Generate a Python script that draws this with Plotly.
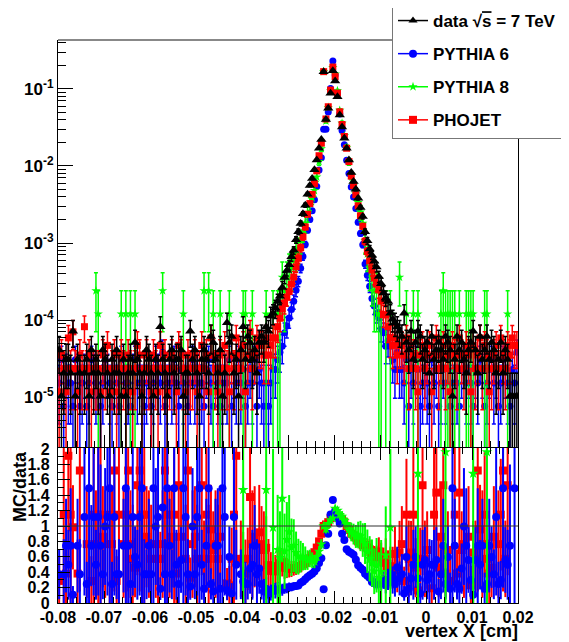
import numpy as np
import plotly.graph_objects as go

# ---------------- binning (200 bins of 0.0005 cm) ----------------
x_low, x_high, n_bins = -0.08, 0.02, 200
bin_width = (x_high - x_low) / n_bins
x_centers = x_low + bin_width * (np.arange(n_bins) + 0.5)

# per-entry weights (normalised histograms)
data_weight = 1.02e-5
pythia6_weight = 0.76e-5
pythia8_weight = 1.2e-4
phojet_weight = 1.17e-5

# ---------------- bin contents (entries) ----------------
# bins 0-87 (left tail), 88-148 (core), 149-199 (right tail)
data_counts_left = [4, 1, 2, 3, 3, 2, 7, 1, 3, 2,
                    0, 2, 3, 1, 4, 2, 3, 2, 1, 4,
                    3, 2, 1, 3, 2, 4, 2, 1, 3, 1,
                    2, 3, 2, 5, 3, 2, 1, 2, 4, 3,
                    2, 1, 3, 2, 8, 3, 2, 1, 3, 4,
                    2, 3, 3, 4, 1, 2, 2, 7, 3, 4,
                    2, 1, 3, 4, 3, 2, 6, 5, 3, 2,
                    4, 1, 2, 9, 5, 6, 2, 3, 1, 4,
                    8, 3, 6, 5, 3, 4, 2, 5]
data_counts_core = [6, 5, 8, 7, 11, 12, 14, 17, 20, 26,
                    35, 43, 51, 65, 79, 108, 137, 176, 235, 304,
                    422, 549, 676, 873, 1176, 1667, 2157, 16470, 3922, 5490,
                    8627, 16860, 12450, 7745, 4510, 3137, 2255, 1667, 1176, 804,
                    618, 490, 373, 284, 216, 137, 105, 82, 68, 57,
                    48, 36, 29, 22, 19, 17, 12, 10, 9, 8,
                    7]
data_counts_right = [6, 12, 5, 4, 7, 3, 5, 7, 6, 3,
                     4, 5, 2, 6, 3, 4, 5, 4, 3, 6,
                     5, 4, 1, 3, 6, 4, 5, 3, 2, 4,
                     5, 7, 4, 2, 6, 3, 4, 6, 3, 5,
                     4, 2, 3, 5, 2, 4, 3, 1, 1, 1,
                     1]

pythia6_counts_left = [2, 4, 1, 3, 2, 2, 1, 4, 3, 1,
                       2, 3, 1, 2, 4, 3, 2, 3, 1, 2,
                       4, 3, 2, 1, 3, 2, 1, 4, 3, 2,
                       2, 1, 3, 4, 2, 3, 2, 1, 2, 3,
                       1, 2, 4, 3, 2, 5, 1, 2, 3, 2,
                       4, 2, 1, 3, 2, 3, 1, 2, 4, 2,
                       3, 2, 2, 1, 3, 4, 2, 1, 3, 2,
                       1, 2, 3, 2, 4, 1, 3, 2, 4, 2,
                       3, 1, 2, 3, 2, 4, 1, 3]
pythia6_counts_core = [2, 1, 2, 1, 2, 3, 3, 4, 5, 6,
                       9, 11, 14, 18, 23, 32, 42, 62, 88, 126,
                       192, 265, 345, 480, 710, 1163, 1680, 3950, 3950, 6630,
                       13300, 30300, 20000, 11430, 6240, 3790, 2480, 1565, 1050, 700,
                       520, 370, 245, 175, 125, 70, 50, 36, 25, 20,
                       16, 14, 10, 9, 6, 7, 6, 4, 3, 5,
                       3]
pythia6_counts_right = [3, 2, 4, 1, 3, 2, 4, 3, 1, 2,
                        3, 2, 1, 4, 2, 3, 1, 2, 3, 2,
                        4, 1, 2, 3, 2, 1, 3, 4, 2, 3,
                        2, 1, 3, 2, 4, 3, 1, 2, 3, 4,
                        2, 3, 1, 2, 4, 3, 2, 1, 3, 2,
                        5]

pythia8_counts_left = [0, 0, 0, 0, 0, 0, 0, 0, 0, 0,
                       0, 0, 0, 0, 0, 0, 2, 1, 0, 0,
                       0, 0, 0, 0, 0, 0, 0, 1, 0, 1,
                       0, 1, 0, 1, 0, 0, 0, 0, 0, 0,
                       0, 0, 0, 0, 0, 2, 0, 0, 0, 0,
                       0, 0, 0, 0, 1, 0, 0, 0, 0, 0,
                       0, 0, 0, 2, 0, 2, 0, 1, 0, 0,
                       1, 0, 0, 0, 1, 0, 0, 0, 0, 0,
                       1, 1, 0, 0, 1, 0, 0, 0]
pythia8_counts_core = [0, 0, 1, 0, 0, 1, 0, 1, 1, 3,
                       2, 3, 4, 4, 5, 6, 7, 9, 12, 15,
                       20, 27, 32, 40, 60, 95, 140, 1400, 320, 480,
                       790, 1580, 1300, 790, 440, 300, 205, 145, 95, 63,
                       47, 36, 28, 21, 15, 9, 6, 4, 3, 2,
                       2, 1, 1, 0, 1, 0, 1, 0, 0, 0,
                       3]
pythia8_counts_right = [0, 0, 1, 0, 0, 1, 0, 1, 0, 0,
                        0, 0, 0, 0, 0, 0, 0, 1, 2, 1,
                        1, 1, 1, 1, 0, 1, 0, 0, 1, 1,
                        1, 1, 0, 0, 0, 0, 1, 1, 0, 0,
                        0, 0, 0, 0, 0, 0, 1, 0, 0, 0,
                        0]

phojet_counts_left = [1, 3, 2, 1, 5, 2, 6, 2, 1, 3,
                      2, 7, 2, 3, 1, 2, 2, 2, 1, 3,
                      2, 4, 1, 2, 3, 1, 2, 3, 2, 1,
                      3, 2, 1, 2, 4, 3, 1, 2, 3, 2,
                      1, 3, 2, 1, 4, 2, 3, 1, 2, 3,
                      2, 1, 4, 3, 2, 1, 3, 2, 2, 3,
                      1, 2, 4, 2, 3, 1, 5, 3, 2, 1,
                      3, 2, 4, 2, 1, 3, 2, 5, 3, 2,
                      4, 1, 3, 6, 2, 3, 5, 4]
phojet_counts_core = [4, 3, 5, 3, 4, 5, 5, 7, 9, 12,
                      14, 17, 20, 25, 31, 42, 54, 74, 103, 138,
                      202, 278, 366, 502, 738, 1162, 1692, 14360, 3487, 5026,
                      8274, 16465, 12374, 7562, 4325, 2954, 2064, 1453, 974, 631,
                      474, 363, 260, 193, 141, 90, 66, 50, 38, 30,
                      25, 21, 15, 10, 10, 7, 5, 4, 5, 3,
                      4]
phojet_counts_right = [4, 3, 5, 2, 4, 3, 2, 1, 3, 4,
                       2, 3, 4, 1, 3, 5, 2, 3, 4, 2,
                       3, 1, 4, 3, 2, 5, 3, 2, 4, 3,
                       1, 4, 2, 3, 5, 2, 4, 3, 1, 2,
                       3, 4, 2, 5, 3, 2, 4, 3, 5, 4,
                       4]

# tick labels
y_top_tickvals = [1e-5, 1e-4, 1e-3, 1e-2, 1e-1]
y_top_ticktext = ["10<sup>-5</sup>", "10<sup>-4</sup>", "10<sup>-3</sup>",
                  "10<sup>-2</sup>", "10<sup>-1</sup>"]
x_tickvals = [-0.08, -0.07, -0.06, -0.05, -0.04, -0.03, -0.02, -0.01, 0.0, 0.01, 0.02]
x_ticktext = ["-0.08", "-0.07", "-0.06", "-0.05", "-0.04", "-0.03", "-0.02",
              "-0.01", "0", "0.01", "0.02"]
y_ratio_tickvals = [0, 0.2, 0.4, 0.6, 0.8, 1, 1.2, 1.4, 1.6, 1.8, 2]
y_ratio_ticktext = ["0", "0.2", "0.4", "0.6", "0.8", "1", "1.2", "1.4", "1.6", "1.8", "2"]

series = [
    # name, counts, weight, colour, symbol, size
    ("PYTHIA 6", pythia6_counts_left + pythia6_counts_core + pythia6_counts_right,
     pythia6_weight, "#0000ff", "circle", 7),
    ("PYTHIA 8", pythia8_counts_left + pythia8_counts_core + pythia8_counts_right,
     pythia8_weight, "#00ff00", "star", 7),
    ("PHOJET", phojet_counts_left + phojet_counts_core + phojet_counts_right,
     phojet_weight, "#ff0000", "square", 7),
]
data_counts = np.array(data_counts_left + data_counts_core + data_counts_right, float)

RATIO_MAX = 2.013
FONT = "Liberation Sans, Arial, sans-serif"
fig = go.Figure()


def add_hist(counts, weight, color, symbol, size):
    counts = np.asarray(counts, float)
    m = counts > 0
    vals = counts[m] * weight
    errs = np.sqrt(counts[m]) * weight
    fig.add_trace(go.Scatter(
        x=x_centers[m], y=vals, mode="markers", xaxis="x", yaxis="y",
        marker=dict(symbol=symbol, size=size, color=color, line=dict(width=0)),
        error_y=dict(type="data", array=errs, arrayminus=errs, color=color,
                     thickness=1.5, width=2),
        showlegend=False, hoverinfo="skip"))


# top panel: MC first, data on top
for name, cnt, w, col, sym, sz in series:
    add_hist(cnt, w, col, sym, sz)
add_hist(data_counts, data_weight, "#000000", "triangle-up", 9)

# ratio panel (points outside the frame are not drawn, as in ROOT)
ratio_order = [series[2], series[0], series[1]]
for name, cnt, w, col, sym, sz in ratio_order:
    cnt = np.asarray(cnt, float)
    m = (cnt > 0) & (data_counts > 0)
    r = (cnt[m] * w) / (data_counts[m] * data_weight)
    e = r * np.sqrt(1.0 / cnt[m] + 1.0 / data_counts[m])
    keep = r <= RATIO_MAX
    fig.add_trace(go.Scatter(
        x=x_centers[m][keep], y=r[keep], mode="markers", xaxis="x2", yaxis="y2",
        marker=dict(symbol=sym, size=sz + 1, color=col, line=dict(width=0)),
        error_y=dict(type="data", array=e[keep], arrayminus=e[keep], color=col,
                     thickness=2, width=0),
        showlegend=False, hoverinfo="skip"))

# legend-only entries
legend_entries = [
    ("data \u221a<span style='text-decoration:overline'>s</span> = 7 TeV",
     "#000000", "triangle-up", 8),
    ("PYTHIA 6", "#0000ff", "circle", 8),
    ("PYTHIA 8", "#00ff00", "star", 7),
    ("PHOJET", "#ff0000", "square", 8),
]
for i, (nm, col, sym, sz) in enumerate(legend_entries):
    fig.add_trace(go.Scatter(
        x=[None], y=[None], mode="lines+markers", name=nm, legendgroup=f"g{i}",
        line=dict(color=col, width=1.5),
        marker=dict(symbol=sym, size=sz, color=col), xaxis="x", yaxis="y"))

# ---------------- layout ----------------
# the page body adds an 8 px offset; the plot frame must sit at x 58-518, y 40-603
W, H = 569, 642
OFF = 8
PX_L, PX_R, PX_T, PX_B = 58, 518, 40, 603
pw, ph = PX_R - PX_L, PX_B - PX_T
ml, mt = PX_L - OFF, PX_T - OFF
mr, mb = W - ml - pw, H - mt - ph
split_low = (PX_B - 448) / ph
split_high = (PX_B - 447) / ph


def px_x(px):
    return (px - PX_L) / pw


def px_y(py):
    return (PX_B - py) / ph


axis_common = dict(showline=True, linecolor="black", linewidth=1.2, ticks="inside",
                   tickcolor="black", showgrid=False, zeroline=False, automargin=False)

fig.update_layout(
    width=W, height=H,
    margin=dict(l=ml, r=mr, t=mt, b=mb, autoexpand=False),
    paper_bgcolor="white", plot_bgcolor="white",
    font=dict(family=FONT, size=16, color="black", weight="bold"),
    xaxis=dict(domain=[0, 1], anchor="y", range=[x_low, x_high],
               tickvals=x_tickvals, showticklabels=False, ticklen=12,
               minor=dict(ticks="inside", ticklen=6, dtick=0.002, tickcolor="black"),
               **axis_common),
    yaxis=dict(domain=[split_high, 1], anchor="x", type="log",
               range=[-5.649, -0.364], tickmode="array",
               tickvals=y_top_tickvals, ticktext=y_top_ticktext, ticklen=15,
               tickfont=dict(size=17), mirror=True,
               minor=dict(ticks="inside", ticklen=8, dtick="D1", tickcolor="black"),
               **axis_common),
    xaxis2=dict(domain=[0, 1], anchor="y2", range=[x_low, x_high],
                tickvals=x_tickvals, ticktext=x_ticktext, ticklen=12,
                tickfont=dict(size=16), mirror="ticks",
                minor=dict(ticks="inside", ticklen=6, dtick=0.002, tickcolor="black"),
                **axis_common),
    yaxis2=dict(domain=[0, split_low], anchor="x2", range=[0, RATIO_MAX],
                tickvals=y_ratio_tickvals, ticktext=y_ratio_ticktext, ticklen=12,
                tickfont=dict(size=16), mirror=True, ticklabelstandoff=4,
                minor=dict(ticks="inside", ticklen=6, dtick=0.1, tickcolor="black"),
                **axis_common),
    legend=dict(x=px_x(392), y=px_y(2),
                xanchor="left", yanchor="top", bgcolor="white",
                bordercolor="#777777", borderwidth=1,
                font=dict(size=17, family=FONT, weight="bold"),
                tracegroupgap=8, itemwidth=30),
    showlegend=True,
    shapes=[
        dict(type="line", xref="x2 domain", yref="y2", x0=0, x1=1, y0=1, y1=1,
             line=dict(color="#333333", width=1.2)),
        dict(type="line", xref="x domain", yref="y domain", x0=0, x1=1, y0=1, y1=1,
             line=dict(color="#888888", width=2)),
    ],
    annotations=[
        dict(text="MC/data", xref="paper", yref="paper",
             x=px_x(20), y=px_y(487), textangle=-90,
             showarrow=False, xanchor="center", yanchor="middle",
             font=dict(size=18, family=FONT, weight="bold")),
        dict(text="vertex X [cm]", xref="paper", yref="paper",
             x=px_x(520), y=px_y(631),
             showarrow=False, xanchor="right", yanchor="middle",
             font=dict(size=18, family=FONT, weight="bold")),
    ],
)

fig.write_html("out.html")
